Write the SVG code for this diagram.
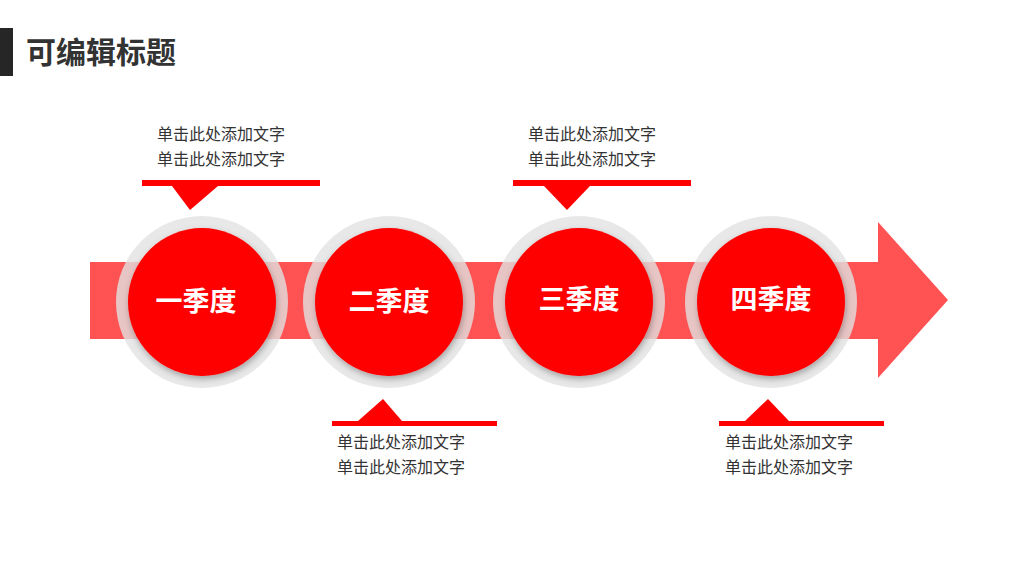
<svg xmlns="http://www.w3.org/2000/svg" width="1024" height="576" viewBox="0 0 1024 576">
<style>
.t{font-family:"Noto Sans CJK SC","Liberation Sans",sans-serif;font-size:16px;fill:#333}
.q{font-family:"Noto Sans CJK SC","Liberation Sans",sans-serif;font-size:27px;font-weight:bold;fill:#fff;text-anchor:middle}
.ring{fill:#e2e2e2;fill-opacity:0.8}
.core{fill:#f00}
.red{fill:#f00}
</style>
<defs><filter id="sh" x="-20%" y="-20%" width="140%" height="140%"><feDropShadow dx="1" dy="3" stdDeviation="3" flood-color="#000" flood-opacity="0.3"/></filter></defs>
<rect x="0" y="28" width="13" height="48" fill="#262626"/>
<text x="26" y="63" style="font-family:'Noto Sans CJK SC',sans-serif;font-size:30px;font-weight:bold;fill:#333">可编辑标题</text>
<g id="arrow"><polygon points="90,262 878,262 878,222 948,300 878,378 878,339 90,339" fill="#ff5353"/></g>
<g id="q1"><circle class="ring" cx="202" cy="302" r="86"/><circle class="core" cx="202" cy="302" r="74" filter="url(#sh)"/><text class="q" x="196" y="311">一季度</text></g>
<g id="q2"><circle class="ring" cx="389" cy="302" r="86"/><circle class="core" cx="389" cy="302" r="74" filter="url(#sh)"/><text class="q" x="389" y="311">二季度</text></g>
<g id="q3"><circle class="ring" cx="579" cy="302" r="86"/><circle class="core" cx="579" cy="302" r="74" filter="url(#sh)"/><text class="q" x="579" y="309">三季度</text></g>
<g id="q4"><circle class="ring" cx="771" cy="302" r="86"/><circle class="core" cx="771" cy="302" r="74" filter="url(#sh)"/><text class="q" x="771" y="309">四季度</text></g>
<g id="c1"><rect class="red" x="142" y="180" width="178" height="6"/><polygon class="red" points="172,186 218,186 190,210"/><text class="t" x="157" y="140">单击此处添加文字</text><text class="t" x="157" y="165">单击此处添加文字</text></g>
<g id="c3"><rect class="red" x="513" y="180" width="178" height="6"/><polygon class="red" points="544,186 590,186 567,210"/><text class="t" x="528" y="140">单击此处添加文字</text><text class="t" x="528" y="165">单击此处添加文字</text></g>
<g id="c2"><rect class="red" x="332" y="421" width="165" height="5"/><polygon class="red" points="358,421 402,421 383,399"/><text class="t" x="337" y="448">单击此处添加文字</text><text class="t" x="337" y="473">单击此处添加文字</text></g>
<g id="c4"><rect class="red" x="719" y="421" width="165" height="5"/><polygon class="red" points="745,421 789,421 768,399"/><text class="t" x="725" y="448">单击此处添加文字</text><text class="t" x="725" y="473">单击此处添加文字</text></g>
</svg>
